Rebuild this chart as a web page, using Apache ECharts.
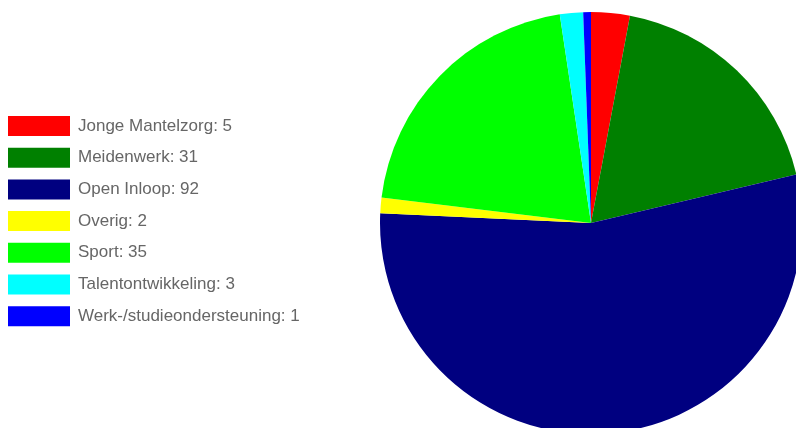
<!DOCTYPE html>
<html><head><meta charset="utf-8">
<script src="https://cdn.jsdelivr.net/npm/echarts@6/dist/echarts.min.js"></script>
<style>html,body{margin:0;padding:0;background:#fff}#c{width:796px;height:428px}</style>
</head><body><div id="c"></div>
<script>
const categories = ["Jonge Mantelzorg","Meidenwerk","Open Inloop","Overig","Sport","Talentontwikkeling","Werk-/studieondersteuning"];
const values = [5,31,92,2,35,3,1];
const colors = ["#ff0000","#008000","#000080","#ffff00","#00ff00","#00ffff","#0000ff"];

const data = categories.map((n,i)=>({name:n,value:values[i],itemStyle:{color:colors[i]}}));
const valueOf = {}; categories.forEach((n,i)=>valueOf[n]=values[i]);

const chart = echarts.init(document.getElementById('c'), null, {renderer:'canvas'});
chart.setOption({
  animation:false,
  legend:{
    orient:'vertical', left:8, top:116, padding:0,
    itemWidth:62, itemHeight:20, itemGap:11.7,
    icon:'rect',
    formatter: n => n + ': ' + valueOf[n],
    textStyle:{color:'#666', fontSize:17, fontFamily:'Liberation Sans, Arial, sans-serif', padding:[0,0,0,3]},
    selectedMode:false
  },
  series:[{
    type:'pie',
    center:[591,223],
    radius:[0,211],
    startAngle:90,
    clockwise:true,
    label:{show:false},
    labelLine:{show:false},
    emphasis:{disabled:true},
    itemStyle:{borderWidth:0},
    data:data
  }]
});
</script></body></html>
